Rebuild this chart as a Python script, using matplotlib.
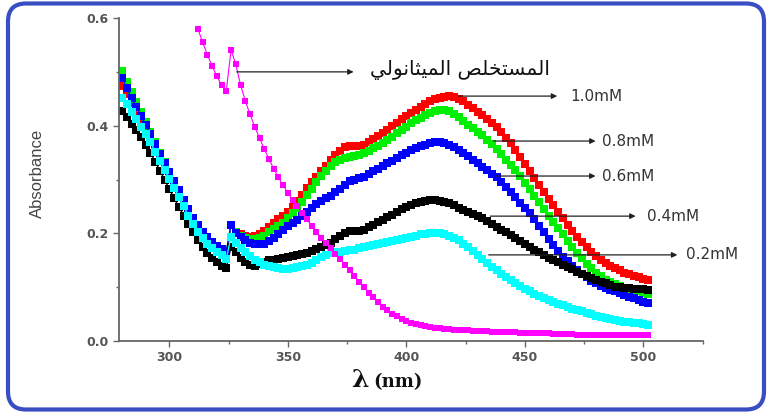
import matplotlib
matplotlib.use("Agg")
import matplotlib.pyplot as plt
from matplotlib.patches import FancyBboxPatch
from matplotlib.ticker import MultipleLocator

# --- DATA (absorbance, 2 nm step) ---
wavelength = list(range(280, 504, 2))
wavelength_extract = list(range(312, 504, 2))

abs_1_0 = [0.473, 0.458, 0.443, 0.428, 0.412, 0.396, 0.380, 0.363, 0.346, 0.329,
           0.312, 0.295, 0.278, 0.261, 0.244, 0.228, 0.214, 0.202, 0.192, 0.183,
           0.176, 0.170, 0.165,
           0.215, 0.203, 0.198, 0.195, 0.194, 0.195, 0.199, 0.205, 0.212, 0.219,
           0.226, 0.233, 0.240, 0.249, 0.260, 0.272, 0.284, 0.295, 0.305, 0.316,
           0.326, 0.336, 0.345, 0.353, 0.360, 0.363, 0.363, 0.362, 0.364, 0.369,
           0.375, 0.381, 0.386, 0.392, 0.399, 0.405, 0.412, 0.418, 0.424, 0.429,
           0.435, 0.440, 0.445, 0.449, 0.452, 0.454, 0.455, 0.454, 0.450, 0.445,
           0.439, 0.433, 0.426, 0.420, 0.413, 0.405, 0.397, 0.388, 0.378, 0.367,
           0.355, 0.342, 0.329, 0.316, 0.303, 0.290, 0.277, 0.264, 0.252, 0.240,
           0.228, 0.216, 0.205, 0.194, 0.184, 0.175, 0.166, 0.158, 0.151, 0.145,
           0.140, 0.135, 0.131, 0.127, 0.124, 0.121, 0.118, 0.115, 0.113]

abs_0_8 = [0.501, 0.482, 0.463, 0.444, 0.425, 0.406, 0.388, 0.369, 0.350, 0.332,
           0.314, 0.297, 0.280, 0.262, 0.245, 0.229, 0.215, 0.203, 0.193, 0.184,
           0.177, 0.171, 0.166,
           0.216, 0.202, 0.196, 0.192, 0.190, 0.190, 0.192, 0.196, 0.202, 0.208,
           0.214, 0.220, 0.228, 0.237, 0.248, 0.259, 0.271, 0.283, 0.295, 0.306,
           0.316, 0.325, 0.332, 0.337, 0.340, 0.342, 0.344, 0.346, 0.349, 0.353,
           0.358, 0.362, 0.367, 0.373, 0.379, 0.386, 0.392, 0.398, 0.405, 0.410,
           0.415, 0.420, 0.424, 0.427, 0.429, 0.429, 0.427, 0.422, 0.416, 0.409,
           0.402, 0.395, 0.389, 0.382, 0.374, 0.366, 0.357, 0.347, 0.337, 0.327,
           0.317, 0.306, 0.294, 0.282, 0.270, 0.258, 0.245, 0.233, 0.222, 0.210,
           0.198, 0.186, 0.175, 0.164, 0.154, 0.144, 0.135, 0.127, 0.120, 0.114,
           0.109, 0.105, 0.102, 0.099, 0.096, 0.094, 0.092, 0.090, 0.088]

abs_0_6 = [0.488, 0.470, 0.452, 0.435, 0.418, 0.401, 0.384, 0.366, 0.348, 0.331,
           0.314, 0.297, 0.280, 0.262, 0.245, 0.229, 0.215, 0.203, 0.193, 0.184,
           0.177, 0.171, 0.166,
           0.216, 0.200, 0.193, 0.187, 0.183, 0.181, 0.180, 0.181, 0.186, 0.192,
           0.199, 0.206, 0.213, 0.219, 0.225, 0.232, 0.240, 0.248, 0.255, 0.261,
           0.266, 0.270, 0.276, 0.283, 0.290, 0.297, 0.300, 0.302, 0.305, 0.310,
           0.315, 0.320, 0.325, 0.330, 0.335, 0.340, 0.345, 0.350, 0.354, 0.358,
           0.362, 0.365, 0.368, 0.370, 0.370, 0.368, 0.365, 0.360, 0.354, 0.349,
           0.343, 0.337, 0.331, 0.324, 0.317, 0.311, 0.305, 0.296, 0.287, 0.277,
           0.267, 0.257, 0.247, 0.237, 0.226, 0.214, 0.202, 0.190, 0.179, 0.168,
           0.157, 0.148, 0.139, 0.131, 0.124, 0.118, 0.112, 0.107, 0.103, 0.099,
           0.095, 0.092, 0.089, 0.086, 0.082, 0.079, 0.076, 0.073, 0.070]

abs_0_4 = [0.427, 0.416, 0.404, 0.392, 0.379, 0.365, 0.350, 0.333, 0.316, 0.299,
           0.282, 0.265, 0.249, 0.233, 0.217, 0.202, 0.188, 0.175, 0.164, 0.154,
           0.146, 0.140, 0.136,
           0.175, 0.165, 0.155, 0.146, 0.141, 0.140, 0.144, 0.147, 0.150, 0.151,
           0.153, 0.155, 0.157, 0.158, 0.160, 0.162, 0.164, 0.167, 0.171, 0.175,
           0.179, 0.183, 0.190, 0.196, 0.201, 0.205, 0.205, 0.204, 0.206, 0.211,
           0.216, 0.221, 0.225, 0.230, 0.235, 0.240, 0.245, 0.249, 0.253, 0.256,
           0.259, 0.261, 0.262, 0.262, 0.261, 0.259, 0.256, 0.252, 0.248, 0.244,
           0.240, 0.236, 0.232, 0.228, 0.223, 0.218, 0.212, 0.207, 0.202, 0.197,
           0.192, 0.186, 0.181, 0.175, 0.170, 0.165, 0.160, 0.155, 0.150, 0.146,
           0.141, 0.137, 0.133, 0.129, 0.125, 0.121, 0.117, 0.114, 0.110, 0.107,
           0.104, 0.101, 0.100, 0.099, 0.098, 0.097, 0.096, 0.096, 0.095]

abs_0_2 = [0.452, 0.440, 0.426, 0.412, 0.398, 0.384, 0.369, 0.352, 0.335, 0.318,
           0.301, 0.284, 0.267, 0.250, 0.233, 0.217, 0.203, 0.191, 0.181, 0.172,
           0.165, 0.159, 0.153,
           0.194, 0.183, 0.173, 0.165, 0.158, 0.151, 0.146, 0.142, 0.139, 0.137,
           0.135, 0.134, 0.134, 0.135, 0.137, 0.139, 0.141, 0.145, 0.150, 0.156,
           0.160, 0.163, 0.165, 0.166, 0.168, 0.169, 0.170, 0.172, 0.174, 0.176,
           0.178, 0.180, 0.182, 0.184, 0.186, 0.188, 0.190, 0.192, 0.194, 0.196,
           0.198, 0.199, 0.200, 0.201, 0.201, 0.199, 0.196, 0.192, 0.187, 0.181,
           0.174, 0.167, 0.160, 0.152, 0.145, 0.138, 0.131, 0.125, 0.119, 0.113,
           0.107, 0.102, 0.097, 0.093, 0.088, 0.084, 0.080, 0.076, 0.072, 0.069,
           0.066, 0.063, 0.060, 0.058, 0.055, 0.052, 0.050, 0.047, 0.045, 0.043,
           0.041, 0.039, 0.038, 0.036, 0.035, 0.034, 0.033, 0.031, 0.030]

abs_extract = [0.580, 0.555, 0.532, 0.511, 0.492, 0.475, 0.465,
               0.541, 0.514, 0.476, 0.446, 0.421, 0.398, 0.377, 0.357, 0.338, 0.320,
               0.304, 0.289, 0.275, 0.262, 0.250, 0.238, 0.226, 0.214, 0.203, 0.192,
               0.182, 0.172, 0.162, 0.152, 0.142, 0.132, 0.121, 0.110, 0.100, 0.090,
               0.081, 0.072, 0.064, 0.057, 0.051, 0.046, 0.041, 0.037, 0.034, 0.031,
               0.029, 0.027, 0.026, 0.025, 0.024, 0.023, 0.022, 0.021, 0.021, 0.020,
               0.020, 0.019, 0.019, 0.018, 0.018, 0.017, 0.017, 0.017, 0.016, 0.016,
               0.016, 0.015, 0.015, 0.015, 0.014, 0.014, 0.014, 0.014, 0.013, 0.013,
               0.013, 0.013, 0.013, 0.012, 0.012, 0.012, 0.012, 0.012, 0.012, 0.011,
               0.011, 0.011, 0.011, 0.011, 0.011, 0.011, 0.011, 0.011, 0.011]

conc_labels = ["1.0mM", "0.8mM", "0.6mM", "0.4mM", "0.2mM"]
# Arabic "المستخلص الميثانولي" in presentation forms, visual order (no shaping in matplotlib)
extract_label = "\uFEF2\uFEDF\uFEEE\uFEE7\uFE8E\uFE9C\uFEF4\uFEE4\uFEDF\uFE8D \uFEBA\uFEE0\uFEA8\uFE98\uFEB4\uFEE4\uFEDF\uFE8D"

# --- FIGURE ---
fig = plt.figure(figsize=(7.71, 4.13), dpi=100)
ax = fig.add_axes([0.1543, 0.1743, 0.7571, 0.782])

series = [(abs_1_0, "#ff0000"), (abs_0_8, "#00ee00"), (abs_0_6, "#0000ff"),
          (abs_0_4, "#000000"), (abs_0_2, "#00ffff")]
for vals, col in series:
    ax.plot(wavelength, vals, color=col, lw=1, marker="s", markersize=5.4,
            markeredgewidth=0, markerfacecolor=col)
ax.plot(wavelength_extract, abs_extract, color="#ff00ff", lw=0.8, marker="s",
        markersize=4.8, markeredgewidth=0)

ax.set_xlim(278.7, 525)
ax.set_ylim(0, 0.6)
ax.xaxis.set_major_locator(MultipleLocator(50))
ax.xaxis.set_minor_locator(MultipleLocator(25))
ax.yaxis.set_major_locator(MultipleLocator(0.2))
ax.yaxis.set_minor_locator(MultipleLocator(0.1))
ax.yaxis.set_major_formatter(plt.FuncFormatter(lambda v, p: f"{v:.1f}"))

for s in ["top", "right"]:
    ax.spines[s].set_visible(False)
for s in ["left", "bottom"]:
    ax.spines[s].set_color("#666666")
    ax.spines[s].set_linewidth(1.3)
ax.tick_params(which="major", direction="out", length=4, width=1, color="#666666",
               labelsize=9, labelcolor="#555555")
ax.tick_params(which="minor", direction="out", length=2.5, width=1, color="#666666")
for lab in ax.get_xticklabels() + ax.get_yticklabels():
    lab.set_fontweight("bold")

ax.set_ylabel("Absorbance", fontsize=12, color="#444444", fontfamily="Liberation Sans")
ax.yaxis.set_label_coords(-0.127, 0.52)

fig.text(0.478, 0.063, "λ", fontsize=18, fontweight="bold", fontfamily="DejaVu Serif",
         ha="right", va="baseline", color="#111111")
fig.text(0.484, 0.063, "(nm)", fontsize=13, fontweight="bold", fontfamily="DejaVu Serif",
         ha="left", va="baseline", color="#111111")

# arrows pointing from the curves to their labels
arrow_rows = [(0.455, 422.0, 463.6, 469.0), (0.3715, 436.7, 479.8, 482.7),
              (0.3065, 438.0, 479.8, 482.7), (0.232, 435.4, 496.7, 501.7),
              (0.160, 434.7, 514.3, 517.8)]
for lab, (y, x0, x1, xt) in zip(conc_labels, arrow_rows):
    ax.annotate("", xy=(x1, y), xytext=(x0, y), annotation_clip=False,
                arrowprops=dict(arrowstyle="-|>", color="#222222", lw=0.9,
                                shrinkA=0, shrinkB=0, mutation_scale=8))
    ax.text(xt, y, lab, fontsize=11, color="#333333", va="center", ha="left",
            fontfamily="DejaVu Sans", clip_on=False)

ax.annotate("", xy=(377.7, 0.50), xytext=(328.4, 0.50),
            arrowprops=dict(arrowstyle="-|>", color="#222222", lw=0.9,
                            shrinkA=0, shrinkB=0, mutation_scale=8))
ax.text(384.7, 0.503, extract_label, fontsize=14.5, color="#111111", va="center",
        ha="left", fontfamily="DejaVu Sans")

# rounded blue frame around the whole picture
frame = FancyBboxPatch((0.08, 0.035), 7.56, 4.06, boxstyle="round,pad=0,rounding_size=0.18",
                       transform=fig.dpi_scale_trans, fill=False, edgecolor="#3a4ec4",
                       linewidth=3)
fig.patches.append(frame)

fig.savefig("out.png", dpi=100)
